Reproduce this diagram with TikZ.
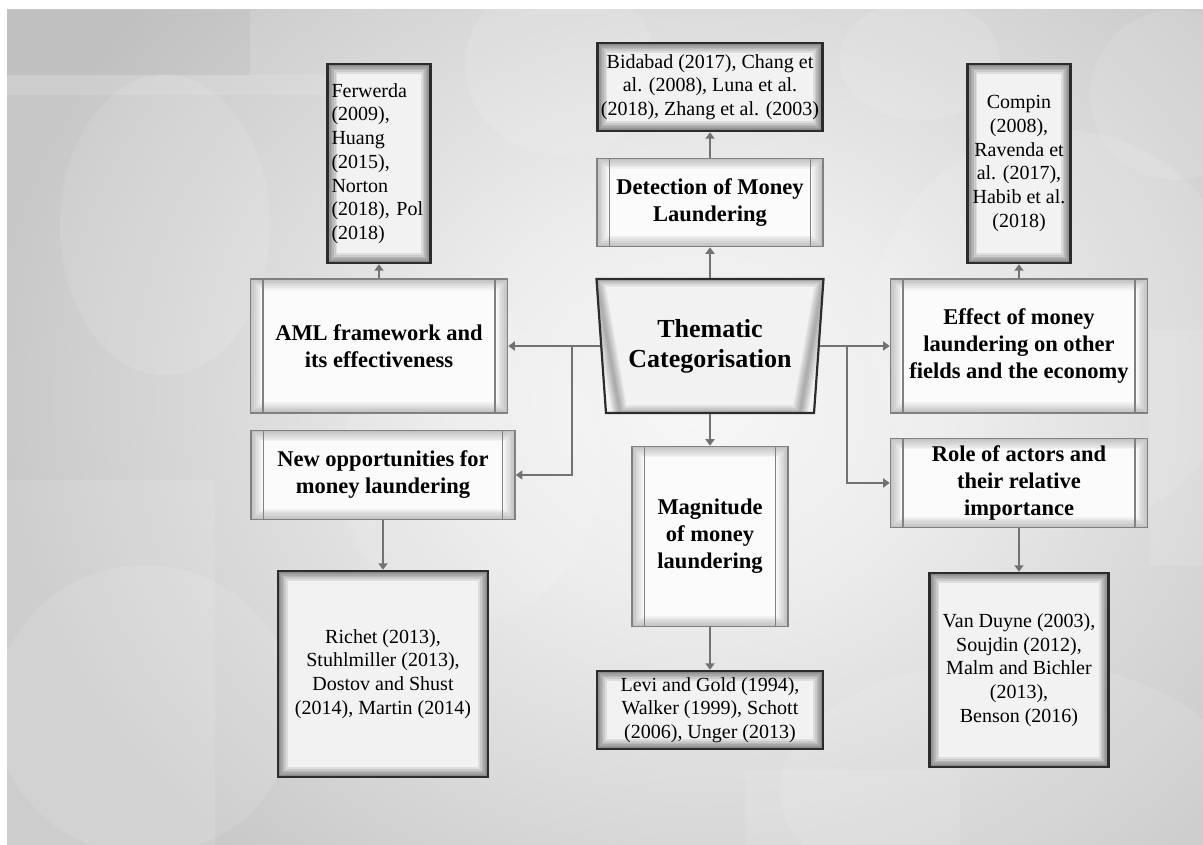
\documentclass[tikz,border=0pt]{standalone}
\usepackage{fontspec}
\setmainfont{Liberation Serif}
\usetikzlibrary{arrows.meta,shapes.geometric}

\definecolor{bgA}{HTML}{F7F7F7}
\definecolor{bgB}{HTML}{EDEDED}
\definecolor{bgC}{HTML}{D6D6D6}
\definecolor{bgD}{HTML}{C7C7C7}
\definecolor{connc}{HTML}{727272}
\definecolor{procline}{HTML}{808080}
\definecolor{procfill}{HTML}{FBFBFB}
\definecolor{refline}{HTML}{2C2C2C}
\definecolor{reffill}{HTML}{F2F2F2}

\pgfdeclareradialshading{bgglow}{\pgfpoint{0bp}{0bp}}{color(0bp)=(bgA); color(7.5bp)=(bgB); color(17.5bp)=(bgC); color(24bp)=(bgD); color(50bp)=(bgD)}

% soft inner shadow along the border of a rectangular node
\newcommand{\innerglow}[3]{%
  \foreach \k in {1,...,6}{%
    \pgfmathsetmacro{\lw}{2*\k*#3}%
    \draw[#1, opacity=#2, line width=\lw pt]
      (path picture bounding box.north west) rectangle (path picture bounding box.south east);}}
% the two inner bars of a predefined-process box
\newcommand{\sidebars}{%
  \draw[procline, line width=1.3pt]
    ([xshift=12.5pt]path picture bounding box.north west) -- ([xshift=12.5pt]path picture bounding box.south west)
    ([xshift=-12.5pt]path picture bounding box.north east) -- ([xshift=-12.5pt]path picture bounding box.south east);}
% inner shadow of the central trapezium
\newcommand{\trapglow}{%
  \foreach \k in {1,...,6}{%
    \pgfmathsetmacro{\lw}{2*\k*1.3}%
    \draw[black, opacity=0.05, line width=\lw pt, line join=miter]
      (path picture bounding box.north west) -- (path picture bounding box.north east)
      -- ([xshift=-23.6pt]path picture bounding box.south east)
      -- ([xshift=23.6pt]path picture bounding box.south west) -- cycle;}}

\begin{document}
\begin{tikzpicture}[x=1pt,y=-1pt,
  conn/.style={draw=connc, line width=1.8pt, -{Triangle[width=9pt,length=6.5pt]}},
  refbox/.style={rectangle, draw=refline, line width=2.4pt, fill=reffill,
    font=\fontsize{20}{23.7}\selectfont, align=center, inner sep=0pt,
    path picture={\innerglow{black}{0.085}{1.6}}},
  procbox/.style={rectangle, draw=procline, line width=1.6pt, fill=procfill,
    font=\bfseries\fontsize{22.5}{27}\selectfont, align=center, inner sep=0pt,
    path picture={\innerglow{black}{0.04}{1.8}\sidebars}},
  themebox/.style={trapezium, shape border rotate=180,
    trapezium left angle=80, trapezium right angle=80, trapezium stretches body,
    minimum width=227pt, minimum height=134pt, inner sep=0pt,
    draw=refline, line width=2.2pt, fill=reffill, align=center,
    font=\bfseries\fontsize{26}{30}\selectfont, path picture={\trapglow}},
  deco/.style={fill=white, opacity=0.11}]

\useasboundingbox (0,0) rectangle (1203,845);

% ---- backdrop -------------------------------------------------------
\fill[white] (0,0) rectangle (1203,845);
\begin{scope}
  \clip (7,10) rectangle (1203,845);
  \shade[shading=bgglow] (-50,-250) rectangle (1450,1050);
  \fill[black, opacity=0.03] (7,10) rectangle (250,75);
  \fill[deco] (7,75) rectangle (330,95);
  \fill[deco] (7,480) rectangle (215,845);
  \fill[deco] (745,770) rectangle (960,845);
  \fill[deco] (1150,330) rectangle (1203,565);
  \fill[deco] (165,225) ellipse [x radius=105, y radius=150];
  \fill[deco] (145,710) ellipse [x radius=150, y radius=145];
  \fill[deco] (560,65) ellipse [x radius=95, y radius=90];
  \fill[deco] (1175,95) ellipse [x radius=85, y radius=85];
  \fill[deco] (1060,330) ellipse [x radius=190, y radius=200];
  \fill[deco] (1010,790) ellipse [x radius=230, y radius=130];
  \fill[deco] (470,470) ellipse [x radius=130, y radius=150];
  \fill[deco] (920,60) ellipse [x radius=80, y radius=60];
\end{scope}

% ---- central column -------------------------------------------------
\node[themebox] (theme) at (710,346) {Thematic\\Categorisation};
\node[procbox, minimum width=226pt, minimum height=88pt] (detect) at (710,202.5)
  {Detection of Money\\Laundering};
\node[refbox, minimum width=225pt, minimum height=88pt] (bidabad) at (710,87)
  {Bidabad (2017), Chang et\\al. (2008), Luna et al.\\(2018), Zhang et al. (2003)};
\node[procbox, minimum width=156pt, minimum height=180pt] (magnitude) at (710,536.5)
  {Magnitude\\of money\\laundering};
\node[refbox, minimum width=226pt, minimum height=78pt] (levi) at (710,710)
  {Levi and Gold (1994),\\Walker (1999), Schott\\(2006), Unger (2013)};

% ---- left column ----------------------------------------------------
\node[procbox, minimum width=257pt, minimum height=134pt] (aml) at (379,346)
  {AML framework and\\its effectiveness};
\node[refbox, minimum width=103pt, minimum height=199pt, align=left, text width=95pt] (ferwerda) at (379,163.5)
  {Ferwerda\\(2009),\\Huang\\(2015),\\Norton\\(2018), Pol\\(2018)};
\node[procbox, minimum width=264pt, minimum height=89pt] (newopp) at (383,475)
  {New opportunities for\\money laundering};
\node[refbox, minimum width=210pt, minimum height=206pt] (richet) at (383,674)
  {Richet (2013),\\Stuhlmiller (2013),\\Dostov and Shust\\(2014), Martin (2014)};

% ---- right column ---------------------------------------------------
\node[procbox, minimum width=257pt, minimum height=134pt] (effect) at (1019,346)
  {Effect of money\\laundering on other\\fields and the economy};
\node[refbox, minimum width=103pt, minimum height=199pt] (compin) at (1019,163.5)
  {Compin\\(2008),\\Ravenda et\\al. (2017),\\Habib et al.\\(2018)};
\node[procbox, minimum width=257pt, minimum height=89pt] (role) at (1019,483)
  {Role of actors and\\their relative\\importance};
\node[refbox, minimum width=179pt, minimum height=194pt] (vanduyne) at (1019,670)
  {Van Duyne (2003),\\Soujdin (2012),\\Malm and Bichler\\(2013),\\Benson (2016)};

% ---- branch points --------------------------------------------------
\coordinate (lsplit) at (572,346);
\coordinate (rsplit) at (847,346);

% ---- connectors -----------------------------------------------------
\draw[conn] (theme.north) -- (detect.south);
\draw[conn] (detect.north) -- (bidabad.south);
\draw[conn] (theme.south) -- (magnitude.north);
\draw[conn] (magnitude.south) -- (levi.north);

\draw[conn] (theme.180) -- (aml.east);
\draw[conn] (lsplit) |- (newopp.east);
\draw[conn] (aml.north) -- (ferwerda.south);
\draw[conn] (newopp.south) -- (richet.north);

\draw[conn] (theme.0) -- (effect.west);
\draw[conn] (rsplit) |- (role.west);
\draw[conn] (effect.north) -- (compin.south);
\draw[conn] (role.south) -- (vanduyne.north);
\end{tikzpicture}
\end{document}
